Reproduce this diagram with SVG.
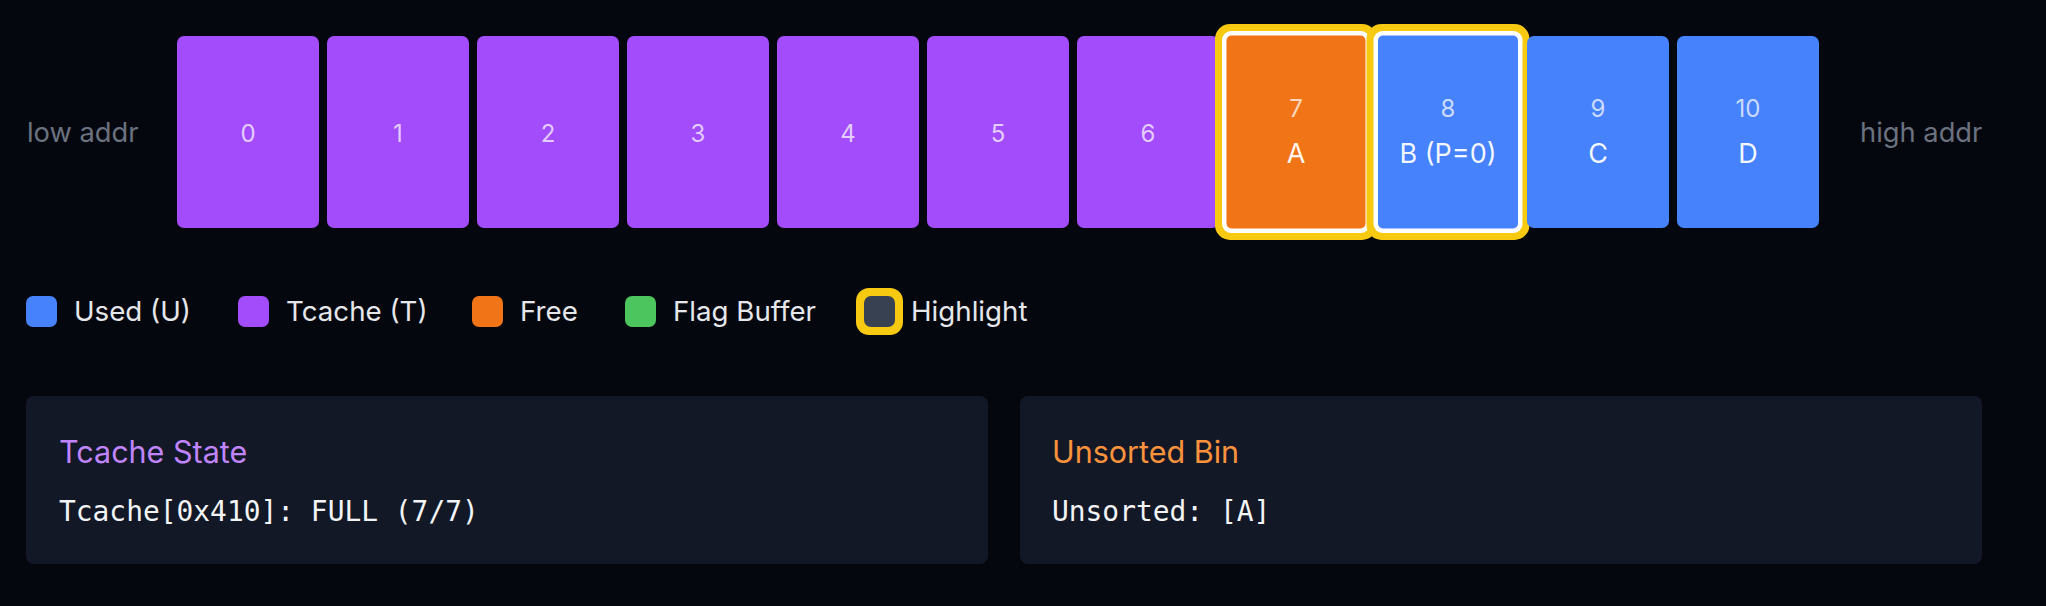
<svg xmlns="http://www.w3.org/2000/svg" width="2046" height="606" viewBox="0 0 2046 606">
<defs>
<style>
.bg{fill:#05070f}
.t{fill:#a34cfc}
.u{fill:#4682fb}
.f{fill:#f17517}
.g{fill:#4cc55e}
.ring{fill:#f7c911}
.wb{fill:#ffffff}
.num{font-family:Inter,"Liberation Sans",sans-serif;font-size:24px;fill:#ffffff;fill-opacity:0.72;text-anchor:middle}
.lbl{font-family:Inter,"Liberation Sans",sans-serif;font-size:27px;fill:#ffffff;fill-opacity:0.95;text-anchor:middle}
.addr{font-family:Inter,"Liberation Sans",sans-serif;font-size:27.3px;fill:#6b7280}
.leg{font-family:Inter,"Liberation Sans",sans-serif;font-size:27.7px;fill:#e5e7eb}
.panel{fill:#121826}
.ptitle{font-family:Inter,"Liberation Sans",sans-serif;font-size:30.5px;font-weight:400}
.mono{font-family:"DejaVu Sans Mono","Liberation Mono",monospace;font-size:27.9px;fill:#f3f4f6}
</style>
</defs>
<rect class="bg" x="0" y="0" width="2046" height="606"/>
<text class="addr" x="27" y="141.7">low addr</text>
<text class="addr" x="1860" y="141.7">high addr</text>
<g id="chunk-0"><rect class="t" x="177" y="36" width="142" height="192" rx="7"/><text class="num" x="248" y="141.7">0</text></g>
<g id="chunk-1"><rect class="t" x="327" y="36" width="142" height="192" rx="7"/><text class="num" x="398" y="141.7">1</text></g>
<g id="chunk-2"><rect class="t" x="477" y="36" width="142" height="192" rx="7"/><text class="num" x="548" y="141.7">2</text></g>
<g id="chunk-3"><rect class="t" x="627" y="36" width="142" height="192" rx="7"/><text class="num" x="698" y="141.7">3</text></g>
<g id="chunk-4"><rect class="t" x="777" y="36" width="142" height="192" rx="7"/><text class="num" x="848" y="141.7">4</text></g>
<g id="chunk-5"><rect class="t" x="927" y="36" width="142" height="192" rx="7"/><text class="num" x="998" y="141.7">5</text></g>
<g id="chunk-6"><rect class="t" x="1077" y="36" width="142" height="192" rx="7"/><text class="num" x="1148" y="141.7">6</text></g>
<g id="chunk-7">
<rect class="ring" x="1215" y="24" width="162" height="216" rx="15"/>
<rect class="wb" x="1222" y="31" width="148" height="202" rx="9"/>
<rect class="f" x="1226.5" y="35.5" width="139" height="193" rx="5"/>
<text class="num" x="1296" y="117.3">7</text>
<text class="lbl" x="1296" y="162.7">A</text>
</g>
<g id="chunk-8">
<rect class="ring" x="1366.5" y="24" width="163" height="216" rx="15"/>
<rect class="wb" x="1373.5" y="31" width="149" height="202" rx="9"/>
<rect class="u" x="1378" y="35.5" width="140" height="193" rx="5"/>
<text class="num" x="1448" y="117.3">8</text>
<text class="lbl" x="1448" y="162.7">B (P=0)</text>
</g>
<g id="chunk-9"><rect class="u" x="1527" y="36" width="142" height="192" rx="7"/><text class="num" x="1598" y="117.3">9</text><text class="lbl" x="1598" y="162.7">C</text></g>
<g id="chunk-10"><rect class="u" x="1677" y="36" width="142" height="192" rx="7"/><text class="num" x="1748" y="117.3">10</text><text class="lbl" x="1748" y="162.7">D</text></g>
<g id="connectors"></g>
<g id="legend">
<g id="legend-used"><rect class="u" x="26" y="296" width="31" height="31" rx="7"/><text class="leg" x="74" y="321">Used (U)</text></g>
<g id="legend-tcache"><rect class="t" x="238" y="296" width="31" height="31" rx="7"/><text class="leg" x="286" y="321">Tcache (T)</text></g>
<g id="legend-free"><rect class="f" x="472" y="296" width="31" height="31" rx="7"/><text class="leg" x="520" y="321">Free</text></g>
<g id="legend-flag"><rect class="g" x="625" y="296" width="31" height="31" rx="7"/><text class="leg" x="673" y="321">Flag Buffer</text></g>
<g id="legend-highlight"><rect class="ring" x="856" y="288" width="47" height="47" rx="13"/><rect x="864" y="296" width="31" height="31" rx="7" fill="#374151"/><text class="leg" x="911" y="321">Highlight</text></g>
</g>
<g id="panel-tcache">
<rect class="panel" x="26" y="396" width="962" height="168" rx="8"/>
<text class="ptitle" x="59" y="463" fill="#c084fc">Tcache State</text>
<text class="mono" x="59" y="520.5">Tcache[0x410]: FULL (7/7)</text>
</g>
<g id="panel-unsorted">
<rect class="panel" x="1020" y="396" width="962" height="168" rx="8"/>
<text class="ptitle" x="1052" y="463" fill="#fb923c">Unsorted Bin</text>
<text class="mono" x="1052" y="520.5">Unsorted: [A]</text>
</g>
</svg>
